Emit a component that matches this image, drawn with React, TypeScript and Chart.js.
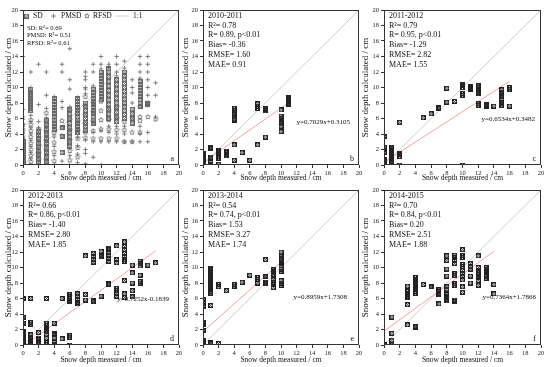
import React, { useEffect, useRef } from "react";
import { Chart, registerables } from "chart.js";
Chart.register(...registerables);

const FONT = "'Liberation Serif', 'Times New Roman', Times, serif";
const X_TITLE = "Snow depth measured / cm";
const Y_TITLE = "Snow depth calculated / cm";
const AXIS_MIN = 0;
const AXIS_MAX = 20;
const TICK_STEP = 2;

// ---------- panel a (all years) ----------
const xsA = [0, 1, 2, 3, 4, 5, 6, 7, 8, 9, 10, 11, 12, 13, 14, 15, 16, 17];
const sdA = [
  [0.2, 0.6, 1.0, 1.3, 1.8, 2.1, 2.6, 3.0],
  [7.0, 7.3, 7.6, 7.9, 8.2, 8.5, 8.8, 9.1, 9.4, 9.8],
  [0.3, 0.8, 1.3, 1.8, 2.3, 2.8, 3.4, 3.8, 4.3],
  [0.4, 1.0, 1.6, 2.2, 2.8, 3.4, 4.0, 4.6, 5.2, 5.8],
  [4.6, 5.0, 5.4, 5.8, 6.2, 6.6, 7.0, 7.4, 7.8, 8.2, 8.6],
  [1.6, 3.7, 4.8],
  [2.4, 3.0, 3.6, 4.2, 4.8, 5.4, 6.0, 6.6, 7.2],
  [4.2, 4.6, 5.0, 5.4, 5.8, 6.2, 6.6, 7.0, 7.4, 7.8, 8.2, 8.6],
  [4.5, 5.0, 5.5, 6.0, 6.5, 7.0, 7.5, 8.0],
  [5.4, 5.8, 6.2, 6.6, 7.0, 7.4, 7.8, 8.2, 8.6, 9.0, 9.4, 9.8],
  [8.4, 8.8, 9.2, 9.6, 10.0, 10.4, 10.8, 11.2, 11.6, 12.0],
  [6.0, 6.6, 7.2, 7.8, 8.4, 9.0, 9.6, 10.2, 10.8, 11.4, 12.0, 12.4],
  [5.6, 6.2, 6.8, 7.4, 8.0, 8.6, 9.2, 9.8, 10.4, 11.0],
  [6.0, 6.5, 7.0, 7.5, 8.0, 8.5, 9.0, 9.5, 10.0, 10.5, 11.0, 11.5, 12.0],
  [5.4, 6.0, 6.6, 7.2],
  [7.6, 8.0, 8.4, 8.8, 9.2, 9.6, 10.0, 10.4, 10.8],
  [7.8, 8.0],
  [],
];
const pmsdA = [
  [0.0, 0.9, 1.7, 2.5, 3.2, 4.0, 4.7, 5.3, 5.9, 6.2, 7.2, 14.0],
  [0.0, 0.8, 1.6, 2.4, 3.2, 4.0, 4.8, 5.6, 6.4, 10.0, 12.0],
  [0.1, 1.1, 2.0, 3.0, 4.0, 4.8, 5.6, 7.8, 13.0],
  [0.1, 1.3, 2.5, 3.7, 4.9, 6.1, 7.3, 9.0, 12.0],
  [0.0, 1.2, 2.4, 3.6, 4.8, 6.0, 7.2, 8.8],
  [0.5, 7.4, 8.2, 12.0, 13.0],
  [0.0, 1.2, 2.2, 7.5, 9.8, 11.0, 15.0],
  [0.3, 1.4, 2.5, 3.6, 8.7],
  [0.0, 1.5, 2.0, 3.2, 9.2, 9.8, 10.0, 11.0, 11.4, 12.0],
  [1.0, 3.0, 4.2, 10.2, 12.0, 13.0],
  [0.0, 3.0, 4.4, 12.4, 13.0, 14.0],
  [3.0, 4.2, 5.0, 12.6, 13.0],
  [3.0, 4.0, 5.0, 11.5, 12.0, 13.0, 14.0],
  [3.0, 4.0, 5.0, 12.5, 13.4],
  [3.0, 8.0, 9.3, 10.0, 11.0],
  [3.0, 4.0, 5.0, 11.2, 12.0, 13.0, 14.0],
  [3.0, 4.2, 9.0, 10.0, 11.0, 12.0, 13.0, 14.0],
  [6.2, 9.0, 10.6],
];
const rfsdA = [
  [0.5, 1.2, 2.0, 2.8, 3.6, 4.4, 5.2],
  [0.4, 1.2, 2.0, 2.8, 3.6, 4.4, 5.2, 5.8],
  [0.6, 1.5, 2.5, 3.5, 4.6],
  [0.7, 1.9, 3.1, 4.3, 5.5, 6.7],
  [0.5, 1.7, 2.9, 4.1],
  [3.7, 4.8, 5.7],
  [0.6, 1.8, 3.2, 4.5, 5.8, 7.0],
  [1.0, 2.2, 3.4, 4.4, 5.6, 7.1],
  [0.0, 3.5, 4.2, 5.3, 6.4, 7.6, 8.8],
  [3.4, 4.4, 5.6, 6.8, 8.0],
  [3.4, 4.6, 5.8, 7.0, 8.2],
  [3.4, 4.6, 5.8, 7.0],
  [3.4, 4.5, 6.0, 7.5],
  [3.0, 4.5, 5.6],
  [3.0, 4.2, 6.0],
  [4.2, 5.7, 6.2, 7.5],
  [6.2, 7.8, 8.0],
  [5.9],
];
const statsA = ["SD: R²= 0.69", "PMSD: R²= 0.51", "RFSD: R²= 0.61"];

// ---------- panel b (2010-2011) ----------
const xsB = [0, 1, 2, 3, 4, 5, 6, 7, 8, 10, 11];
const ysB = [
  [0.1, 0.3, 0.5, 0.7, 0.9, 1.1, 1.3, 1.5],
  [0.1, 0.5, 0.9, 1.0, 2.1, 2.3],
  [0.1, 0.9, 1.1, 1.5, 1.7, 1.9],
  [1.2, 1.4, 1.6, 1.8],
  [0.6, 2.6, 5.8, 5.9, 6.5, 6.7, 7.0, 7.3],
  [1.6],
  [0.6],
  [2.6, 7.3, 7.6, 7.9],
  [3.6, 7.0, 7.2, 7.3],
  [4.3, 5.0, 5.3, 5.6, 6.0, 6.3, 7.1],
  [7.8, 8.0, 8.2, 8.4, 8.6, 8.7],
];
const statsB = ["2010-2011", "R²= 0.78", "R= 0.89, p<0.01", "Bias= -0.36", "RMSE= 1.60", "MAE= 0.91"];
const fitB = [0.7029, 0.3105];
const eqB = "y=0.7029x+0.3105";

// ---------- panel c (2011-2012) ----------
const xsC = [0, 1, 2, 5, 6, 7, 8, 9, 10, 11, 12, 13, 14, 15, 16];
const ysC = [
  [0.1, 0.3, 0.5, 0.7, 1.6, 2.3, 3.7],
  [0.3, 0.5, 0.7, 0.9, 1.1, 1.3, 1.5, 1.7, 1.9, 2.1, 2.3],
  [0.0, 1.1, 1.3, 1.5, 5.5],
  [6.1],
  [6.6],
  [7.3, 7.4],
  [8.1, 9.9],
  [8.2],
  [0.0, 9.0, 9.2, 10.0, 10.2, 10.4],
  [9.8, 9.9, 10.0, 10.1],
  [7.7, 7.9, 9.2, 9.4, 9.6, 9.8, 10.0, 10.2],
  [7.6, 7.7, 7.8],
  [7.6],
  [7.7, 7.9, 8.1, 8.5, 8.8, 9.0, 9.2, 9.4, 9.7],
  [7.6, 9.8, 10.0],
];
const statsC = ["2011-2012", "R²= 0.79", "R= 0.95, p<0.01", "Bias= -1.29", "RMSE= 2.82", "MAE= 1.55"];
const fitC = [0.6534, 0.3482];
const eqC = "y=0.6534x+0.3482";

// ---------- panel d (2012-2013) ----------
const xsD = [0, 1, 2, 3, 4, 5, 6, 7, 8, 9, 10, 11, 12, 13, 14, 15, 16, 17];
const ysD = [
  [0.0, 0.3, 0.6, 0.9, 1.2, 1.4, 1.6, 1.8, 2.8, 3.6, 6.0],
  [0.2, 0.4, 0.6, 0.8, 1.0, 1.3, 2.7, 2.9, 6.0],
  [0.1, 0.4, 0.7, 0.9, 1.6],
  [0.1, 0.3, 0.9, 1.4, 1.7, 1.9, 2.1, 2.3, 2.5, 2.8, 6.0],
  [0.1, 0.5, 0.9, 1.3, 1.5, 2.8],
  [0.8, 6.0],
  [0.0, 1.0, 1.2, 5.6, 5.8, 6.0, 6.2, 6.5],
  [5.3, 5.5, 5.9, 6.3, 6.6],
  [5.8, 6.5, 11.5],
  [5.6, 5.7, 10.7, 11.0, 11.4, 11.8],
  [6.3, 11.4, 11.6, 12.1],
  [7.8, 7.9, 10.8, 11.2, 11.6, 12.0, 12.3, 12.5],
  [6.3, 6.7, 7.0, 7.3, 10.6, 11.0, 12.8],
  [6.1, 6.6, 8.3, 10.8, 11.0, 11.4, 11.8, 12.3, 12.7, 13.3],
  [6.2, 7.0, 8.0, 9.3, 10.3],
  [8.0, 8.2, 9.0, 10.2, 10.5, 10.8],
  [10.3],
  [10.6],
];
const statsD = ["2012-2013", "R²= 0.66", "R= 0.86, p<0.01", "Bias= -1.40", "RMSE= 2.80", "MAE= 1.85"];
const fitD = [0.7252, -0.1839];
const eqD = "y=0.7252x-0.1839";

// ---------- panel e (2013-2014) ----------
const xsE = [0, 1, 2, 3, 4, 5, 6, 7, 8, 9, 10];
const ysE = [
  [0.0, 0.3, 0.6, 1.9, 2.7, 2.9, 5.0, 5.5, 5.9],
  [0.2, 0.3, 5.1, 6.7, 6.9, 7.1, 7.3, 7.5, 7.7, 7.9, 8.1, 8.3, 8.5, 8.7, 8.9, 9.1, 9.3, 9.5, 9.7, 9.9],
  [0.2, 7.5, 7.8],
  [7.0],
  [7.6, 7.8],
  [8.1],
  [9.0],
  [8.0, 8.5, 8.7],
  [7.9, 8.1, 8.8, 8.9, 11.0],
  [7.4, 7.8, 8.1, 8.4, 9.1, 9.3, 9.5, 9.7],
  [7.7, 8.0, 8.3, 9.5, 9.8, 10.2, 10.5, 10.7, 10.9, 11.1, 11.4, 12.0],
];
const statsE = ["2013-2014", "R²= 0.54", "R= 0.74, p<0.01", "Bias= 1.53", "RMSE= 3.27", "MAE= 1.74"];
const fitE = [0.8959, 1.7308];
const eqE = "y=0.8959x+1.7308";

// ---------- panel f (2014-2015) ----------
const xsF = [0, 1, 3, 4, 5, 6, 7, 8, 9, 10, 11, 12, 13, 14];
const ysF = [
  [0.0, 0.1],
  [0.0, 0.6, 1.5, 3.6],
  [2.6, 5.2, 6.1, 6.3, 6.5, 6.7, 6.9, 7.6],
  [2.3, 2.4, 6.7, 6.9, 7.1, 7.3, 7.5, 7.7, 7.9, 8.1, 8.3, 8.5, 8.7],
  [7.8],
  [7.5, 7.5],
  [5.3, 6.5, 6.7, 6.9, 7.1],
  [5.7, 5.9, 6.1, 6.3, 6.5, 7.2, 7.5, 8.9, 9.8, 10.9, 11.5],
  [5.6, 5.8, 7.7, 7.9, 9.0, 9.2, 10.5, 10.9, 11.3, 11.6],
  [6.8, 7.5, 8.4, 8.8, 9.2, 9.6, 10.1, 10.4, 11.3, 11.5, 12.3],
  [8.0, 8.9, 9.8, 10.1, 10.5],
  [7.7, 8.3, 8.7, 8.9, 9.1, 9.3, 9.6, 10.0, 11.5],
  [8.6, 8.9, 9.1, 9.3, 9.5, 9.7, 10.0],
  [6.6, 7.8],
];
const statsF = ["2014-2015", "R²= 0.70", "R= 0.84, p<0.01", "Bias= 0.20", "RMSE= 2.51", "MAE= 1.88"];
const fitF = [0.7364, 1.7866];
const eqF = "y=0.7364x+1.7866";

// ---------- helpers ----------
function toPoints(xs: number[], ys: number[][]) {
  const out: { x: number; y: number }[] = [];
  xs.forEach((x, i) => (ys[i] || []).forEach((y) => out.push({ x, y })));
  return out;
}

function boxX(size: number, color: string) {
  const c = document.createElement("canvas");
  c.width = size;
  c.height = size;
  const g = c.getContext("2d")!;
  g.strokeStyle = color;
  g.lineWidth = 1;
  g.strokeRect(0.5, 0.5, size - 1, size - 1);
  g.beginPath();
  g.moveTo(1, 1);
  g.lineTo(size - 1, size - 1);
  g.moveTo(size - 1, 1);
  g.lineTo(1, size - 1);
  g.stroke();
  return c;
}

function starImg(size: number, color: string) {
  const c = document.createElement("canvas");
  c.width = size;
  c.height = size;
  const g = c.getContext("2d")!;
  g.strokeStyle = color;
  g.lineWidth = 0.8;
  const cx = size / 2;
  const cy = size / 2;
  const R = size / 2 - 0.5;
  const r = R * 0.5;
  g.beginPath();
  for (let i = 0; i < 10; i++) {
    const ang = -Math.PI / 2 + (i * Math.PI) / 5;
    const rad = i % 2 === 0 ? R : r;
    const px = cx + rad * Math.cos(ang);
    const py = cy + rad * Math.sin(ang);
    if (i === 0) g.moveTo(px, py);
    else g.lineTo(px, py);
  }
  g.closePath();
  g.stroke();
  return c;
}

type Panel = {
  key: string;
  left: number;
  top: number;
  width: number;
  height: number;
  yW: number;
  xH: number;
  padR: number;
  yTitlePad: number;
  kind: "all" | "year";
  xs: number[];
  ys?: number[][];
  stats: string[];
  fit?: number[];
  eq?: string;
  eqR?: number;
  eqY?: number;
  label: string;
};

const ROW1 = 0;
const ROW2 = 180;

const panels: Panel[] = [
  { key: "a", left: 0, top: ROW1, width: 184, height: 183, yW: 23, xH: 18, padR: 2, yTitlePad: 3, kind: "all", xs: xsA, stats: statsA, label: "a" },
  { key: "b", left: 180, top: ROW1, width: 184, height: 183, yW: 23, xH: 18, padR: 2, yTitlePad: 0, kind: "year", xs: xsB, ys: ysB, stats: statsB, fit: fitB, eq: eqB, eqR: 9, eqY: 112, label: "b" },
  { key: "c", left: 360, top: ROW1, width: 186, height: 183, yW: 24, xH: 18, padR: 4, yTitlePad: 0, kind: "year", xs: xsC, ys: ysC, stats: statsC, fit: fitC, eq: eqC, eqR: 6, eqY: 109, label: "c" },
  { key: "d", left: 0, top: ROW2, width: 184, height: 185, yW: 23, xH: 20, padR: 2, yTitlePad: 3, kind: "year", xs: xsD, ys: ysD, stats: statsD, fit: fitD, eq: eqD, eqR: 10, eqY: 109, label: "d" },
  { key: "e", left: 180, top: ROW2, width: 184, height: 185, yW: 23, xH: 20, padR: 2, yTitlePad: 0, kind: "year", xs: xsE, ys: ysE, stats: statsE, fit: fitE, eq: eqE, eqR: 12, eqY: 107, label: "e" },
  { key: "f", left: 360, top: ROW2, width: 186, height: 185, yW: 24, xH: 20, padR: 4, yTitlePad: 0, kind: "year", xs: xsF, ys: ysF, stats: statsF, fit: fitF, eq: eqF, eqR: 5, eqY: 107, label: "f" },
];

const INK = "#222";
const GREY = "#666";

function PanelChart({ p }: { p: Panel }) {
  const ref = useRef<HTMLCanvasElement | null>(null);
  useEffect(() => {
    if (!ref.current) return;
    const sq = boxX(5, INK);
    const sqA = boxX(5, GREY);
    const st = starImg(6, GREY);
    const datasets: any[] = [];
    datasets.push({
      type: "line",
      data: [
        { x: AXIS_MIN, y: AXIS_MIN },
        { x: AXIS_MAX, y: AXIS_MAX },
      ],
      borderColor: "#c6c6c6",
      borderWidth: 0.9,
      pointRadius: 0,
      order: 5,
    });
    if (p.kind === "all") {
      datasets.push({ type: "scatter", data: toPoints(xsA, sdA), pointStyle: sqA, pointRadius: 2.5, order: 1 });
      datasets.push({ type: "scatter", data: toPoints(xsA, pmsdA), pointStyle: "cross", pointRadius: 2.2, borderColor: GREY, borderWidth: 0.8, order: 2 });
      datasets.push({ type: "scatter", data: toPoints(xsA, rfsdA), pointStyle: st, pointRadius: 3, order: 3 });
    } else {
      const pts = toPoints(p.xs, p.ys!);
      const xmin = Math.min(...p.xs);
      const xmax = Math.max(...p.xs);
      const [a, b] = p.fit!;
      datasets.push({
        type: "line",
        data: [
          { x: xmin, y: a * xmin + b },
          { x: xmax, y: a * xmax + b },
        ],
        borderColor: "#e99a9a",
        borderWidth: 0.9,
        pointRadius: 0,
        order: 4,
      });
      datasets.push({ type: "scatter", data: pts, pointStyle: sq, pointRadius: 2.5, order: 1 });
    }

    const deco = {
      id: "deco" + p.key,
      afterDatasetsDraw(chart: any) {
        const { ctx, chartArea: ca } = chart;
        ctx.save();
        ctx.strokeStyle = "#333";
        ctx.lineWidth = 1;
        ctx.strokeRect(Math.round(ca.left) + 0.5, Math.round(ca.top) + 0.5, Math.round(ca.right - ca.left) - 1, Math.round(ca.bottom - ca.top) - 1);
        ctx.fillStyle = "#111";
        ctx.textBaseline = "middle";
        ctx.textAlign = "left";
        if (p.kind === "all") {
          const ly = ca.top + 6;
          ctx.drawImage(sqA, 24, ly - 2.5);
          ctx.font = `7.5px ${FONT}`;
          ctx.fillText("SD", 33, ly);
          ctx.strokeStyle = GREY;
          ctx.lineWidth = 0.8;
          ctx.beginPath();
          ctx.moveTo(51, ly);
          ctx.lineTo(56, ly);
          ctx.moveTo(53.5, ly - 2.5);
          ctx.lineTo(53.5, ly + 2.5);
          ctx.stroke();
          ctx.fillText("PMSD", 61, ly);
          ctx.drawImage(st, 84, ly - 3);
          ctx.fillText("RFSD", 93, ly);
          ctx.strokeStyle = "#c6c6c6";
          ctx.beginPath();
          ctx.moveTo(115, ly);
          ctx.lineTo(129, ly);
          ctx.stroke();
          ctx.fillText("1:1", 133, ly);
          ctx.font = `6.5px ${FONT}`;
          p.stats.forEach((s, i) => ctx.fillText(s, ca.left + 4, ca.top + 18 + i * 7.5));
        } else {
          ctx.font = `8px ${FONT}`;
          p.stats.forEach((s, i) => ctx.fillText(s, ca.left + 5, ca.top + 5.7 + i * 9.8));
          ctx.font = `7px ${FONT}`;
          ctx.textAlign = "right";
          ctx.fillText(p.eq!, ca.right - p.eqR!, ca.top + p.eqY!);
        }
        ctx.font = `8px ${FONT}`;
        ctx.textAlign = "right";
        ctx.fillText(p.label, ca.right - 5, ca.bottom - 6);
        ctx.restore();
      },
    };

    const tickFont = { family: FONT, size: 6.5 };
    const chart = new Chart(ref.current, {
      type: "scatter",
      data: { datasets },
      plugins: [deco],
      options: {
        responsive: false,
        animation: false,
        events: [],
        layout: { padding: { top: 10, right: p.padR, left: 0, bottom: 0 } },
        plugins: { legend: { display: false }, tooltip: { enabled: false } },
        elements: { point: { borderColor: INK, backgroundColor: "transparent" } },
        scales: {
          x: {
            type: "linear",
            min: AXIS_MIN,
            max: AXIS_MAX,
            ticks: { stepSize: TICK_STEP, font: tickFont, color: "#222", padding: 1, maxRotation: 0, autoSkip: false },
            grid: { drawOnChartArea: false, drawTicks: true, tickLength: 3, color: "#333" },
            border: { display: false },
            title: { display: true, text: X_TITLE, font: { family: FONT, size: 7.5 }, color: "#111", padding: 0 },
            afterFit: (s: any) => {
              s.height = p.xH;
            },
          },
          y: {
            type: "linear",
            min: AXIS_MIN,
            max: AXIS_MAX,
            ticks: { stepSize: TICK_STEP, font: tickFont, color: "#222", padding: 2, autoSkip: false },
            grid: { drawOnChartArea: false, drawTicks: true, tickLength: 3, color: "#333" },
            border: { display: false },
            title: { display: true, text: Y_TITLE, font: { family: FONT, size: 9 }, color: "#111", padding: { top: p.yTitlePad, bottom: 0 } },
            afterFit: (s: any) => {
              s.width = p.yW;
            },
          },
        },
      } as any,
    });
    return () => chart.destroy();
  }, [p]);
  return (
    <canvas
      ref={ref}
      width={p.width}
      height={p.height}
      style={{ position: "absolute", left: p.left, top: p.top, width: p.width, height: p.height }}
    />
  );
}

export default function App() {
  return (
    <div style={{ position: "absolute", left: 0, top: 0, width: 550, height: 367, background: "#fff", overflow: "hidden" }}>
      {panels.map((p) => (
        <PanelChart key={p.key} p={p} />
      ))}
    </div>
  );
}
